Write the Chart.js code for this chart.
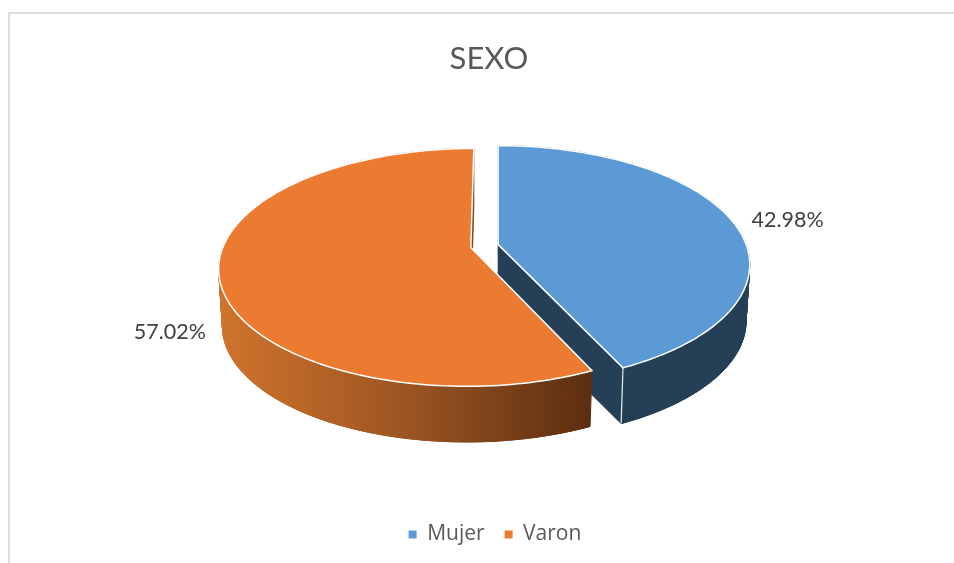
<!DOCTYPE html>
<html>
<head>
<meta charset="utf-8">
<style>
html,body{margin:0;padding:0;background:#fff;width:954px;height:563px;overflow:hidden}
#frame{position:absolute;left:8px;top:12px;width:946px;height:551px;border-top:2px solid #dcdcdc;border-left:2px solid #dcdcdc;box-sizing:border-box}
canvas{position:absolute;left:0;top:0}
</style>
</head>
<body>
<div id="frame"></div>
<canvas id="c" width="954" height="563"></canvas>
<script src="https://cdn.jsdelivr.net/npm/chart.js@4/dist/chart.umd.min.js"></script>
<script>
const categories = ['Mujer', 'Varon'];
const percentages = [42.98, 57.02];
const sliceColors = ['#5b9ad5', '#ea7b30'];

// 3D projection settings for the tilted pie
const view = {cx: 484.5, cy: 246, radius: 248, tilt: 0.466, persp: 0.168, depth: 57, floorX: 0.985, floorY: 0.99};
const sliceSkew = [0, -3.5];
const labelShift = [[56, 0], [-49, 58]];

function project(t, apexX, apexY, skew, sx, sy) {
  const u = Math.cos(t), v = Math.sin(t), w = 1 - view.persp * v;
  return [apexX + (view.radius * sx * u + skew * v) / w, apexY + (view.radius * sy * view.tilt * v) / w];
}
function arcPoints(el, ax, ay, skew, sx, sy) {
  const pts = [], n = 160;
  for (let i = 0; i <= n; i++) {
    pts.push(project(el.startAngle + (el.endAngle - el.startAngle) * i / n, ax, ay, skew, sx, sy));
  }
  return pts;
}
function tracePoly(ctx, pts) {
  ctx.beginPath();
  pts.forEach((p, i) => i ? ctx.lineTo(p[0], p[1]) : ctx.moveTo(p[0], p[1]));
  ctx.closePath();
}
function apexOf(el) {
  const mid = (el.startAngle + el.endAngle) / 2, d = el.options.offset;
  return [view.cx + Math.cos(mid) * d, view.cy + Math.sin(mid) * d * view.tilt];
}
function wallFill(ctx, i) {
  if (i === 0) return '#243f56';
  const g = ctx.createLinearGradient(view.cx - view.radius - 14, 0, view.cx + 105, 0);
  g.addColorStop(0, '#cf732c');
  g.addColorStop(0.5, '#9c5522');
  g.addColorStop(1, '#5c2e10');
  return g;
}

const pie3d = {
  id: 'pie3d',
  afterLayout(chart) {
    chart.legend.left += 6;
    chart.legend.right += 6;
  },
  beforeDatasetDraw(chart, args) {
    const ctx = chart.ctx, els = chart.getDatasetMeta(args.index).data;
    els.forEach((el, i) => {
      const [ax, ay] = apexOf(el), skew = sliceSkew[i];
      const top = arcPoints(el, ax, ay, skew, 1, 1);
      const bottom = arcPoints(el, ax, ay + view.depth, skew, view.floorX, view.floorY);
      const fill = wallFill(ctx, i);
      ctx.save();
      ctx.fillStyle = fill; ctx.strokeStyle = fill; ctx.lineWidth = 1;
      tracePoly(ctx, [[ax, ay + view.depth]].concat(bottom)); ctx.fill(); ctx.stroke();
      for (let k = 0; k < top.length - 1; k++) {
        tracePoly(ctx, [top[k], top[k + 1], bottom[k + 1], bottom[k]]);
        ctx.fill(); ctx.stroke();
      }
      const last = top.length - 1;
      tracePoly(ctx, [[ax, ay], top[last], bottom[last], [ax, ay + view.depth]]);
      ctx.fill();
      if (i === 0) {
        ctx.strokeStyle = '#e8ecef'; ctx.lineWidth = 1.2;
        ctx.beginPath();
        ctx.moveTo(top[last][0], top[last][1]);
        ctx.lineTo(bottom[last][0], bottom[last][1]);
        ctx.stroke();
      }
      tracePoly(ctx, [[ax, ay]].concat(top));
      ctx.fillStyle = el.options.backgroundColor;
      ctx.fill();
      ctx.strokeStyle = '#ffffff'; ctx.lineWidth = 1.5; ctx.lineJoin = 'miter';
      ctx.stroke();
      ctx.restore();
    });
    return false;
  },
  afterDatasetsDraw(chart) {
    const ctx = chart.ctx, els = chart.getDatasetMeta(0).data;
    ctx.save();
    ctx.font = '21.5px Lato';
    ctx.fillStyle = '#404040';
    ctx.textAlign = 'center';
    ctx.textBaseline = 'middle';
    els.forEach((el, i) => {
      const [ax, ay] = apexOf(el);
      const mid = (el.startAngle + el.endAngle) / 2;
      const p = project(mid, ax, ay, sliceSkew[i], 1, 1);
      ctx.fillText(percentages[i].toFixed(2) + '%', p[0] + labelShift[i][0], p[1] + labelShift[i][1]);
    });
    ctx.restore();
  }
};

new Chart(document.getElementById('c'), {
  type: 'pie',
  data: {
    labels: categories,
    datasets: [{data: percentages, backgroundColor: sliceColors, borderWidth: 0, offset: 14}]
  },
  options: {
    responsive: false,
    animation: false,
    rotation: 0,
    layout: {padding: {left: 24, bottom: 8}},
    plugins: {
      tooltip: {enabled: false},
      title: {
        display: true, text: 'SEXO', color: '#595959',
        font: {family: 'Lato', size: 31, weight: 'normal'},
        padding: {top: 40, bottom: 10}
      },
      legend: {
        position: 'bottom',
        labels: {
          color: '#595959', boxWidth: 8, boxHeight: 8, padding: 20,
          font: {family: 'Open Sans', size: 21}
        }
      }
    }
  },
  plugins: [pie3d]
});
</script>
</body>
</html>
